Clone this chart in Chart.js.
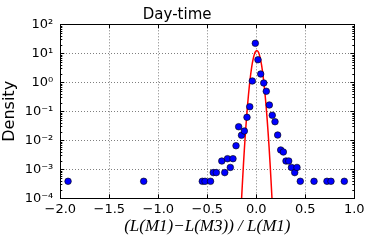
<!DOCTYPE html>
<html>
<head>
<meta charset="utf-8">
<script src="https://cdn.jsdelivr.net/npm/chart.js@4/dist/chart.umd.min.js"></script>
<style>
  html, body { margin: 0; padding: 0; background: #ffffff; }
  #c { display: block; }
</style>
</head>
<body>
<canvas id="c" width="374" height="249"></canvas>
<script>
// ---- Data ----
const xTickValues = [-2, -1.5, -1, -0.5, 0, 0.5, 1];
const yTickValues = [1e-4, 1e-3, 1e-2, 1e-1, 1, 10, 100];
const yTickLabels = ['10⁻⁴', '10⁻³', '10⁻²', '10⁻¹', '10⁰', '10¹', '10²'];

// histogram density points (blue)
const pointX = [-1.921, -1.149, -0.551, -0.523, -0.467, -0.439, -0.408, -0.352, -0.322, -0.294,
                -0.265, -0.238, -0.207, -0.180, -0.151, -0.122, -0.095, -0.067, -0.041, -0.010,
                 0.017,  0.045,  0.076,  0.102,  0.133,  0.163,  0.191,  0.218,  0.249,  0.276,
                 0.303,  0.331,  0.359,  0.392,  0.415,  0.449,  0.589,  0.721,  0.762,  0.898];
const pointY = [3.86e-4, 3.86e-4, 3.86e-4, 3.86e-4, 3.86e-4, 7.7e-4, 7.7e-4, 1.93e-3, 7.7e-4, 2.32e-3,
                1.16e-3, 2.32e-3, 6.5e-3, 0.0294, 0.0149, 0.0209, 0.0621, 0.144, 1.11, 22.1,
                6.0, 1.93, 0.946, 0.49, 0.165, 0.0728, 0.0437, 0.0152, 4.63e-3, 3.95e-3,
                1.93e-3, 1.93e-3, 1.16e-3, 7.7e-4, 1.16e-3, 3.86e-4, 3.86e-4, 3.86e-4, 3.86e-4, 3.86e-4];

// fitted curve (red)
const fitX = [-0.17, -0.16, -0.15, -0.14, -0.13, -0.12, -0.11, -0.10, -0.09, -0.08, -0.07, -0.06,
              -0.05, -0.04, -0.03, -0.02, -0.01, 0.00, 0.01, 0.02, 0.03, 0.04, 0.05, 0.06,
               0.07, 0.08, 0.09, 0.10, 0.11, 0.12, 0.13, 0.14, 0.15, 0.16, 0.17, 0.18];
const fitY = [2e-6, 2.1e-5, 1.0e-4, 4.3e-4, 1.7e-3, 6.1e-3, 0.0196, 0.057, 0.152, 0.365, 0.80, 1.58,
              2.85, 4.64, 6.86, 9.19, 11.2, 12.3, 12.3, 11.2, 9.19, 6.86, 4.64, 2.85,
              1.58, 0.80, 0.365, 0.152, 0.057, 0.0196, 6.1e-3, 1.7e-3, 4.3e-4, 1.0e-4, 2.1e-5, 2e-6];

const fitData = fitX.map((v, i) => ({ x: v, y: fitY[i] }));
const pointData = pointX.map((v, i) => ({ x: v, y: pointY[i] }));

const framePlugin = {
  id: 'frameTicks',
  afterDatasetsDraw(chart) {
    const { ctx, chartArea: a, scales: { x, y } } = chart;
    ctx.save();
    ctx.strokeStyle = '#000000';
    ctx.lineWidth = 1;
    ctx.beginPath();
    // major x ticks (inside, top and bottom)
    xTickValues.forEach(v => {
      const px = Math.round(x.getPixelForValue(v)) + 0.5;
      ctx.moveTo(px, a.bottom); ctx.lineTo(px, a.bottom - 4);
      ctx.moveTo(px, a.top); ctx.lineTo(px, a.top + 4);
    });
    // major y ticks
    yTickValues.forEach(v => {
      const py = Math.round(y.getPixelForValue(v)) + 0.5;
      ctx.moveTo(a.left, py); ctx.lineTo(a.left + 4, py);
      ctx.moveTo(a.right, py); ctx.lineTo(a.right - 4, py);
    });
    // minor y ticks
    for (let i = 0; i < yTickValues.length - 1; i++) {
      for (let m = 2; m <= 9; m++) {
        const py = Math.round(y.getPixelForValue(yTickValues[i] * m)) + 0.5;
        ctx.moveTo(a.left, py); ctx.lineTo(a.left + 2, py);
        ctx.moveTo(a.right, py); ctx.lineTo(a.right - 2, py);
      }
    }
    ctx.stroke();
    ctx.strokeRect(Math.round(a.left) + 0.5, Math.round(a.top) + 0.5,
                   Math.round(a.right) - Math.round(a.left), Math.round(a.bottom) - Math.round(a.top));
    ctx.restore();
  }
};

new Chart(document.getElementById('c'), {
  type: 'scatter',
  data: {
    datasets: [
      {
        label: 'fit',
        data: fitData,
        showLine: true,
        borderColor: '#ff0000',
        borderWidth: 1.5,
        pointRadius: 0,
        cubicInterpolationMode: 'monotone',
        fill: false,
        order: 2
      },
      {
        label: 'data',
        data: pointData,
        showLine: false,
        backgroundColor: '#0000ff',
        borderColor: '#000000',
        borderWidth: 0.6,
        pointRadius: 3.3,
        order: 1
      }
    ]
  },
  options: {
    responsive: false,
    animation: false,
    devicePixelRatio: 1,
    layout: { padding: { left: 0, right: 19.7, top: 0, bottom: 0 } },
    plugins: {
      legend: { display: false },
      tooltip: { enabled: false },
      title: {
        display: true,
        text: 'Day-time',
        color: '#000000',
        font: { family: 'DejaVu Sans', size: 15, weight: 'normal' },
        padding: { top: 6.3, bottom: 0 }
      }
    },
    scales: {
      x: {
        type: 'linear',
        min: -2,
        max: 1,
        offset: false,
        afterFit(s) { s.height = 50.7; },
        afterBuildTicks(s) { s.ticks = xTickValues.map(v => ({ value: v })); },
        grid: { color: 'rgba(0,0,0,0.5)', lineWidth: 1, drawTicks: false },
        border: { display: false, dash: [1, 2] },
        ticks: {
          color: '#000000',
          font: { family: 'DejaVu Sans', size: 13 },
          padding: 4,
          maxRotation: 0,
          autoSkip: false,
          callback: (v) => (Math.abs(v) < 1e-9 ? '0.0' : v.toFixed(1).replace('-', '−'))
        },
        title: {
          display: true,
          text: '(L(M1)−L(M3)) / L(M1)',
          color: '#000000',
          font: { family: 'Liberation Serif', size: 17, style: 'italic' },
          padding: { top: 0, bottom: 12 }
        }
      },
      y: {
        type: 'logarithmic',
        min: 1e-4,
        max: 100,
        afterFit(s) { s.width = 60.3; },
        afterBuildTicks(s) { s.ticks = yTickValues.map(v => ({ value: v })); },
        grid: { color: 'rgba(0,0,0,0.5)', lineWidth: 1, drawTicks: false },
        border: { display: false, dash: [1, 2] },
        ticks: {
          color: '#000000',
          font: { family: 'DejaVu Sans', size: 13 },
          padding: 7,
          autoSkip: false,
          callback: (v) => {
            const i = yTickValues.findIndex(t => Math.abs(Math.log10(t) - Math.log10(v)) < 1e-6);
            return i >= 0 ? yTickLabels[i] : '';
          }
        },
        title: {
          display: true,
          text: 'Density',
          color: '#000000',
          font: { family: 'DejaVu Sans', size: 16 },
          padding: { top: 0, bottom: 5 }
        }
      }
    }
  },
  plugins: [framePlugin]
});
</script>
</body>
</html>
